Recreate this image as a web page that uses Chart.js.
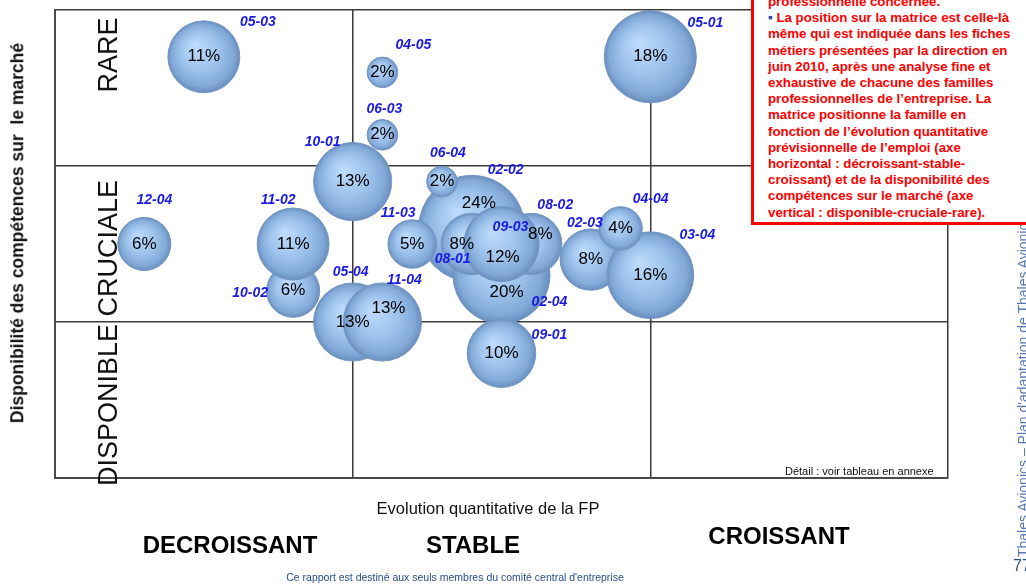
<!DOCTYPE html>
<html>
<head>
<meta charset="utf-8">
<script src="https://cdn.jsdelivr.net/npm/chart.js@4.4.1/dist/chart.umd.min.js"></script>
<style>
  html, body { margin: 0; padding: 0; background: #fff; }
  #wrap { position: relative; width: 1026px; height: 585px; overflow: hidden; font-family: "Liberation Sans", Arial, sans-serif; }
  #c { position: absolute; left: 0; top: 0; }
  .t { position: absolute; white-space: nowrap; line-height: 1; }
  .ctr { transform: translate(-50%, -50%); }
  .rot { transform: translate(-50%, -50%) rotate(-90deg); }
  #note { position: absolute; left: 751px; top: -10px; width: 320px; height: 235px; box-sizing: border-box;
          border: 3px solid #ff0000; background: #fff; z-index: 5; }
  #noteText { position: absolute; left: 768px; top: -6px; z-index: 6; color: #ff0000; font-weight: bold;
              font-size: 13.3px; line-height: 16.2px; white-space: nowrap; }
</style>
</head>
<body>
<div id="wrap">
  <canvas id="c" width="1026" height="585"></canvas>

  <div class="t rot" style="left:18px; top:233px; font-size:17.5px; font-weight:bold; color:#111;">Disponibilité des compétences sur&nbsp; le marché</div>
  <div class="t rot" style="left:108px; top:55px; font-size:27px; color:#111;">RARE</div>
  <div class="t rot" style="left:108px; top:333px; font-size:27px; color:#111;">DISPONIBLE CRUCIALE</div>

  <div class="t ctr" style="left:488px; top:508px; font-size:16.5px; color:#111;">Evolution quantitative de la FP</div>
  <div class="t ctr" style="left:230px; top:545px; font-size:24px; font-weight:bold; color:#000;">DECROISSANT</div>
  <div class="t ctr" style="left:473px; top:545px; font-size:24px; font-weight:bold; color:#000;">STABLE</div>
  <div class="t ctr" style="left:779px; top:536px; font-size:24px; font-weight:bold; color:#000;">CROISSANT</div>
  <div class="t ctr" style="left:455px; top:577px; font-size:10.5px; color:#2b4d8f;">Ce rapport est destiné aux seuls membres du comité central d'entreprise</div>
  <div class="t" style="left:785px; top:466px; font-size:11px; color:#111;">Détail : voir tableau en annexe</div>

  <div class="t" style="left:1016px; top:557px; transform-origin:0 0; transform:rotate(-90deg); font-size:14px; color:#5a78b0;">Thales Avionics – Plan d'adaptation de Thales Avionics</div>
  <div class="t" style="left:1013px; top:558px; font-size:16px; color:#2a4f8f;">77</div>

  <div id="note"></div>
  <div id="noteText">professionnelle concernée.<br>
<span style="color:#2a4a9a;">▪</span> La position sur la matrice est celle-là<br>
même qui est indiquée dans les fiches<br>
métiers présentées par la direction en<br>
juin 2010, après une analyse fine et<br>
exhaustive de chacune des familles<br>
professionnelles de l’entreprise. La<br>
matrice positionne la famille en<br>
fonction de l’évolution quantitative<br>
prévisionnelle de l’emploi (axe<br>
horizontal : décroissant-stable-<br>
croissant) et de la disponibilité des<br>
compétences sur le marché (axe<br>
vertical : disponible-cruciale-rare).</div>
</div>

<script>
// ---- data (drawn back to front) ----
const codes  = ['02-02','02-04','08-02','08-01','09-03','02-03','03-04','04-04','06-04','11-03','10-02','11-02','05-04','11-04','09-01','10-01','12-04','05-03','05-01','04-05','06-03'];
const shares = [24, 20, 8, 8, 12, 8, 16, 4, 2, 5, 6, 11, 13, 13, 10, 13, 6, 11, 18, 2, 2];
// x: 0-1 décroissant, 1-2 stable, 2-3 croissant
const xVals  = [1.4, 1.5, 1.6, 1.4, 1.5, 1.8, 2.0, 1.9, 1.3, 1.2, 0.8, 0.8, 1.0, 1.1, 1.5, 1.0, 0.3, 0.5, 2.0, 1.1, 1.1];
// y: 0-1 disponible, 1-2 cruciale, 2-3 rare
const yVals  = [1.6, 1.3, 1.5, 1.5, 1.5, 1.4, 1.3, 1.6, 1.9, 1.5, 1.2, 1.5, 1.0, 1.0, 0.8, 1.9, 1.5, 2.7, 2.7, 2.6, 2.2];
const axisTicks = [0, 1, 2, 3];

// ---- styling ----
const K = 10.84; // radius scale: r = K * sqrt(share)
const pctNudge = { '02-02':[7,-25], '08-01':[-10,0], '09-03':[1,13], '08-02':[9,-10], '11-04':[6,-14], '02-04':[5,17] };
const codeOffset = {
  '05-03':[54,-35], '04-05':[31,-27], '06-03':[2,-26], '10-01':[-30,-39], '06-04':[6,-28],
  '02-02':[34,-58], '08-02':[24,-39], '09-03':[9,-17], '08-01':[-19,15], '02-03':[-6,-36],
  '04-04':[30,-29], '03-04':[47,-40], '11-03':[-14,-31], '12-04':[10,-44], '11-02':[-15,-44],
  '10-02':[-43,2], '05-04':[-2,-50], '11-04':[22,-42], '02-04':[48,27], '09-01':[48,-18], '05-01':[55,-34]
};

const points = codes.map((c, i) => ({ x: xVals[i], y: yVals[i] }));

const labelPlugin = {
  id: 'bubbleLabels',
  afterDatasetsDraw(chart) {
    const ctx = chart.ctx;
    const meta = chart.getDatasetMeta(0);
    ctx.save();
    ctx.textAlign = 'center';
    ctx.textBaseline = 'middle';
    ctx.font = '17px "Liberation Sans", Arial, sans-serif';
    ctx.fillStyle = '#000';
    meta.data.forEach((el, i) => {
      const n = pctNudge[codes[i]] || [0, 0];
      ctx.fillText(shares[i] + '%', el.x + n[0], el.y + n[1]);
    });
    ctx.font = 'italic bold 14px "Liberation Sans", Arial, sans-serif';
    ctx.fillStyle = '#1a1ae0';
    meta.data.forEach((el, i) => {
      const o = codeOffset[codes[i]] || [0, 0];
      ctx.fillText(codes[i], el.x + o[0], el.y + o[1]);
    });
    ctx.restore();
  }
};

function bubbleFill(ctx) {
  const chart = ctx.chart;
  const i = ctx.dataIndex;
  const fallback = '#9cc3ee';
  if (i === undefined || !chart.scales || !chart.scales.x || !chart.scales.y) return fallback;
  const cx = chart.scales.x.getPixelForValue(xVals[i]);
  const cy = chart.scales.y.getPixelForValue(yVals[i]);
  const r = K * Math.sqrt(shares[i]);
  if (![cx, cy, r].every(Number.isFinite)) return fallback;
  const g = chart.ctx.createRadialGradient(cx - r * 0.25, cy - r * 0.3, r * 0.05, cx, cy, r);
  g.addColorStop(0, '#bcdafc');
  g.addColorStop(0.5, '#9ec3ec');
  g.addColorStop(0.85, '#82a9d8');
  g.addColorStop(1, '#6a8fbf');
  return g;
}

const gridStyle = {
  color: '#3a3a3a', lineWidth: 1.5, drawTicks: false
};

new Chart(document.getElementById('c'), {
  type: 'bubble',
  data: {
    datasets: [{
      data: points,
      radius: (ctx) => ctx.dataIndex === undefined ? 5 : K * Math.sqrt(shares[ctx.dataIndex]),
      backgroundColor: bubbleFill,
      borderColor: '#7596c2',
      borderWidth: 1
    }]
  },
  options: {
    responsive: false,
    animation: false,
    events: [],
    layout: { autoPadding: false, padding: { left: 55, top: 10, right: 78, bottom: 107 } },
    plugins: { legend: { display: false }, tooltip: { enabled: false } },
    scales: {
      x: {
        type: 'linear', min: axisTicks[0], max: axisTicks[axisTicks.length - 1],
        afterBuildTicks: (s) => { s.ticks = axisTicks.map(v => ({ value: v })); },
        ticks: { display: false },
        grid: gridStyle,
        border: { display: true, color: '#4a4a4a', width: 2 }
      },
      y: {
        type: 'linear', min: axisTicks[0], max: axisTicks[axisTicks.length - 1],
        afterBuildTicks: (s) => { s.ticks = axisTicks.map(v => ({ value: v })); },
        ticks: { display: false },
        grid: gridStyle,
        border: { display: true, color: '#4a4a4a', width: 2 }
      }
    }
  },
  plugins: [labelPlugin]
});
</script>
</body>
</html>
